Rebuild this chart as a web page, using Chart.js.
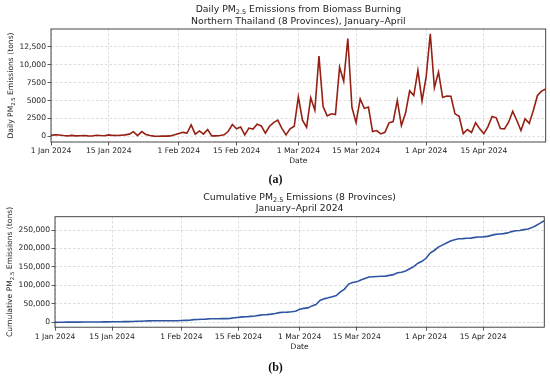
<!DOCTYPE html>
<html>
<head>
<meta charset="utf-8">
<script src="https://cdn.jsdelivr.net/npm/chart.js@4"></script>
<style>
  body { margin: 0; background: #fff; }
  #wrap { position: relative; width: 550px; height: 379px; }
  canvas { position: absolute; left: 0; }
  #grafDiario { top: 0; }
  #grafAcumulado { top: 190px; }
</style>
</head>
<body>
<div id="wrap">
  <canvas id="grafDiario" width="550" height="190"></canvas>
  <canvas id="grafAcumulado" width="550" height="189"></canvas>
</div>
<script>
// days since 1 Jan 2024 where the date ticks sit
const tickDays = [0, 14, 31, 45, 60, 74, 91, 105];
const tickLabels = ['1 Jan 2024', '15 Jan 2024', '1 Feb 2024', '15 Feb 2024',
                    '1 Mar 2024', '15 Mar 2024', '1 Apr 2024', '15 Apr 2024'];

const dailyTicks = [0, 2500, 5000, 7500, 10000, 12500];
const dailyTickLabels = ['0', '2500', '5000', '7500', '10,000', '12,500'];
const cumTicks = [0, 50000, 100000, 150000, 200000, 250000];
const cumTickLabels = ['0', '50,000', '100,000', '150,000', '200,000', '250,000'];

// daily PM2.5 emissions (tons), 1 Jan .. 30 Apr 2024
const daily = [
  150, 200, 180, 100, 50, 120, 60, 80, 100, 50,
  30, 150, 100, 80, 200, 120, 100, 150, 200, 300,
  650, 100, 650, 250, 100, 20, 0, 30, 20, 50,
  200, 400, 550, 450, 1600, 300, 750, 300, 950, 50,
  50, 100, 200, 700, 1650, 1050, 1300, 200, 1150, 1000,
  1700, 1450, 450, 1400, 1900, 2250, 1100, 200, 1050, 1400,
  5500, 2250, 1260, 5400, 3650, 11200, 4170, 2850, 3140, 3030,
  9690, 7700, 13670, 4030, 1920, 5220, 3900, 4090, 660, 800,
  330, 560, 1880, 2060, 5010, 1500, 3250, 6350, 5700, 9220,
  4950, 8300, 14330, 6800, 8990, 5430, 5620, 5600, 3140, 2800,
  380, 950, 530, 1900, 1040, 380, 1350, 2770, 2580, 1080,
  1040, 1970, 3490, 2210, 800, 2440, 1800, 3610, 5710, 6320,
  6600
];

// cumulative emissions (tons), same days
const cumulative = [
  150, 350, 530, 630, 680, 800, 860, 940, 1040, 1090,
  1120, 1270, 1370, 1450, 1650, 1770, 1870, 2020, 2220, 2520,
  3170, 3270, 3920, 4170, 4270, 4290, 4290, 4320, 4340, 4390,
  4590, 4990, 5540, 5990, 7590, 7890, 8640, 8940, 9890, 9940,
  9990, 10090, 10290, 10990, 12640, 13690, 14990, 15190, 16340, 17340,
  19040, 20490, 20940, 22340, 24240, 26490, 27590, 27790, 28840, 30240,
  35740, 37990, 39250, 44650, 48300, 59500, 63670, 66520, 69660, 72690,
  82380, 90080, 103750, 107780, 109700, 114920, 118820, 122910, 123570, 124370,
  124700, 125260, 127140, 129200, 134210, 135710, 138960, 145310, 151010, 160230,
  165180, 173480, 187810, 194610, 203600, 209030, 214650, 220250, 223390, 226190,
  226570, 227520, 228050, 229950, 230990, 231370, 232720, 235490, 238070, 239150,
  240190, 242160, 245650, 247860, 248660, 251100, 252900, 256510, 262220, 268540,
  275140
];

const FONT = 'DejaVu Sans';
const INK = '#222';

// text with an optional subscript part, centred on (x, y)
function drawRich(ctx, parts, x, y, size, vertical) {
  ctx.save();
  ctx.translate(x, y);
  if (vertical) ctx.rotate(-Math.PI / 2);
  ctx.fillStyle = INK;
  ctx.textBaseline = 'middle';
  ctx.textAlign = 'left';
  const fontOf = p => (p.sub ? size * 0.7 : size) + 'px "' + FONT + '"';
  let w = 0;
  parts.forEach(p => { ctx.font = fontOf(p); w += ctx.measureText(p.t).width; });
  let cx = -w / 2;
  parts.forEach(p => {
    ctx.font = fontOf(p);
    ctx.fillText(p.t, cx, p.sub ? size * 0.3 : 0);
    cx += ctx.measureText(p.t).width;
  });
  ctx.restore();
}

function criarGrafico(id, values, color, cfg) {
  const canvas = document.getElementById(id);
  const W = canvas.width, H = canvas.height;
  const a = cfg.area;

  const textos = {
    id: 'textos',
    afterDraw(chart) {
      const ctx = chart.ctx;
      const ca = chart.chartArea;
      const mid = (ca.left + ca.right) / 2;
      // frame
      ctx.save();
      ctx.strokeStyle = '#333';
      ctx.lineWidth = 0.9;
      ctx.strokeRect(ca.left, ca.top, ca.right - ca.left, ca.bottom - ca.top);
      ctx.restore();
      cfg.title.forEach((ln, i) => drawRich(ctx, ln, mid, cfg.titleY[i], 9.3, false));
      drawRich(ctx, [{ t: 'Date' }], mid, cfg.dateY, 7.6, false);
      drawRich(ctx, cfg.yTitle, cfg.yTitleX, (ca.top + ca.bottom) / 2, 7.6, true);
      ctx.save();
      ctx.fillStyle = '#111';
      ctx.font = 'bold 12px "Liberation Serif"';
      ctx.textAlign = 'center';
      ctx.textBaseline = 'middle';
      ctx.fillText(cfg.panel, 275.5, cfg.panelY);
      ctx.restore();
    }
  };

  return new Chart(canvas, {
    type: 'line',
    data: {
      datasets: [{
        data: values.map((v, i) => ({ x: i, y: v })),
        borderColor: color,
        borderWidth: 1.6,
        pointRadius: 0,
        tension: 0,
        fill: false
      }]
    },
    options: {
      responsive: false,
      animation: false,
      events: [],
      layout: {
        autoPadding: false,
        padding: { left: 0, top: a.top, right: W - a.right, bottom: 0 }
      },
      plugins: { legend: { display: false }, tooltip: { enabled: false }, title: { display: false } },
      scales: {
        x: {
          type: 'linear',
          min: 0,
          max: values.length - 1,
          afterFit: s => { s.height = H - a.bottom; },
          afterBuildTicks: s => { s.ticks = tickDays.map(v => ({ value: v })); },
          ticks: {
            autoSkip: false,
            maxRotation: 0,
            padding: cfg.xPad,
            color: INK,
            font: { family: FONT, size: 7.6 },
            callback: (v, i) => tickLabels[i]
          },
          grid: { color: 'rgba(0,0,0,0.17)', lineWidth: 0.8, tickLength: 3.5, tickColor: '#333', tickWidth: 0.8 },
          border: { display: false, dash: [2.5, 2] }
        },
        y: {
          type: 'linear',
          min: cfg.yMin,
          max: cfg.yMax,
          afterFit: s => { s.width = a.left; },
          afterBuildTicks: s => { s.ticks = cfg.yTicks.map(v => ({ value: v })); },
          ticks: {
            padding: 1.5,
            color: INK,
            font: { family: FONT, size: 7.6 },
            callback: (v, i) => cfg.yLabels[i]
          },
          grid: { color: 'rgba(0,0,0,0.17)', lineWidth: 0.8, tickLength: 3.5, tickColor: '#333', tickWidth: 0.8 },
          border: { display: false, dash: [2.5, 2] }
        }
      }
    },
    plugins: [textos]
  });
}

criarGrafico('grafDiario', daily, '#951f12', {
  area: { left: 51, right: 545.7, top: 29, bottom: 142 },
  yMin: -800, yMax: 15000,
  yTicks: dailyTicks, yLabels: dailyTickLabels,
  xPad: 0.5,
  title: [
    [{ t: 'Daily PM' }, { t: '2.5', sub: true }, { t: ' Emissions from Biomass Burning' }],
    [{ t: 'Northern Thailand (8 Provinces), January\u2013April' }]
  ],
  titleY: [10, 22],
  dateY: 161,
  yTitle: [{ t: 'Daily PM' }, { t: '2.5', sub: true }, { t: ' Emissions (tons)' }],
  yTitleX: 11,
  panel: '(a)', panelY: 180
});

criarGrafico('grafAcumulado', cumulative, '#2f55a2', {
  area: { left: 55, right: 544.3, top: 26.7, bottom: 137.2 },
  yMin: -13000, yMax: 286000,
  yTicks: cumTicks, yLabels: cumTickLabels,
  xPad: 1.5,
  title: [
    [{ t: 'Cumulative PM' }, { t: '2.5', sub: true }, { t: ' Emissions (8 Provinces)' }],
    [{ t: 'January\u2013April 2024' }]
  ],
  titleY: [7.3, 19],
  dateY: 157.3,
  yTitle: [{ t: 'Cumulative PM' }, { t: '2.5', sub: true }, { t: ' Emissions (tons)' }],
  yTitleX: 10,
  panel: '(b)', panelY: 178
});
</script>
</body>
</html>
